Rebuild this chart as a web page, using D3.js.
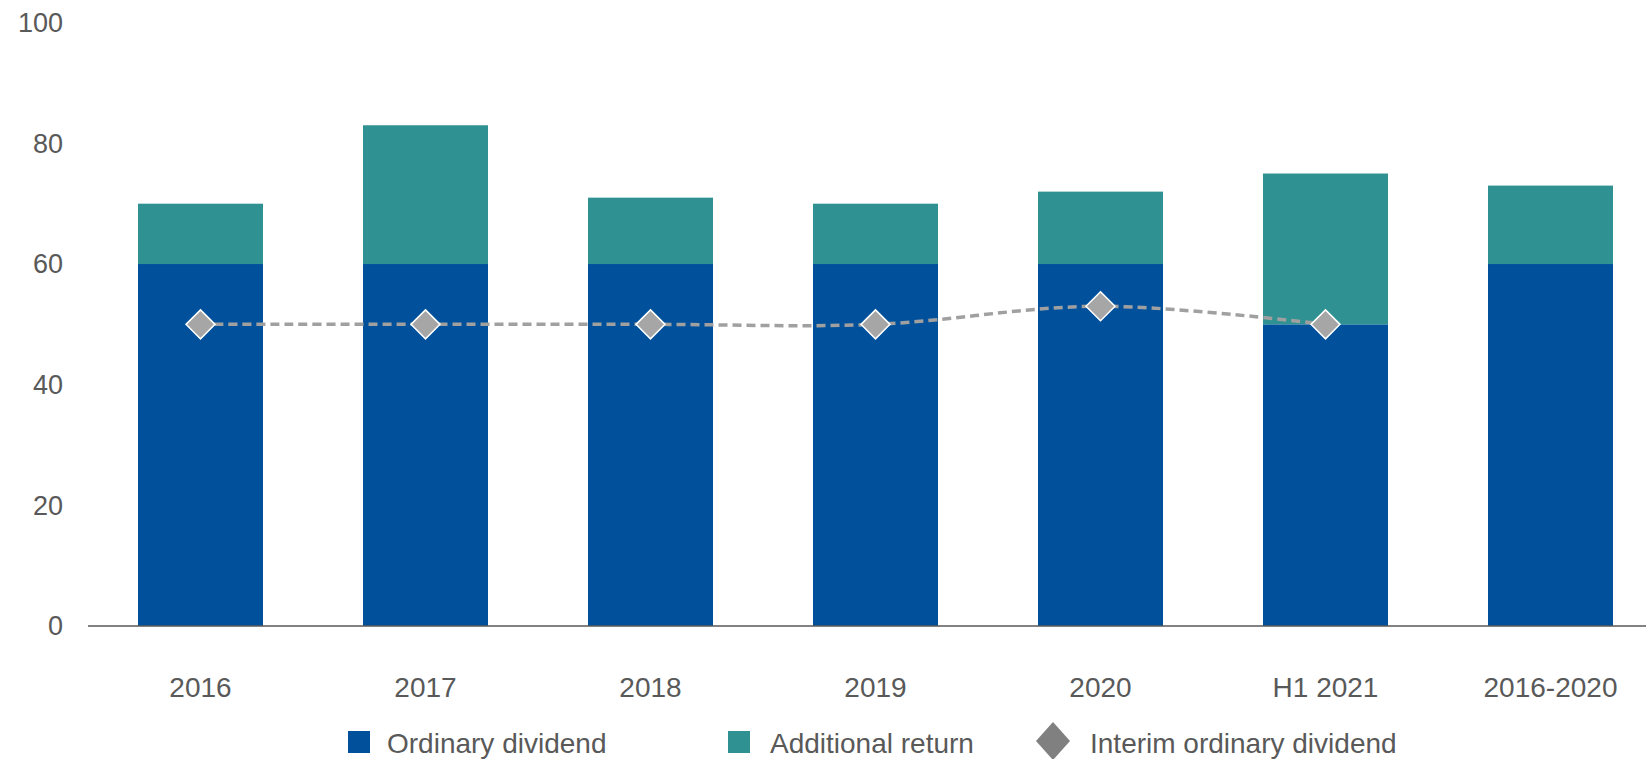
<!DOCTYPE html>
<html>
<head>
<meta charset="utf-8">
<script src="https://cdn.jsdelivr.net/npm/d3@7"></script>
<style>
  html, body { margin: 0; padding: 0; background: #fff; }
  svg { display: block; font-family: "Liberation Sans", Arial, sans-serif; }
</style>
</head>
<body>
<svg id="chart" width="1646" height="759"></svg>
<script>
const categories = ["2016", "2017", "2018", "2019", "2020", "H1 2021", "2016-2020"];
const ordinaryDividend = [60, 60, 60, 60, 60, 50, 60];
const additionalReturn = [10, 23, 11, 10, 12, 25, 13];
const interimDividend = [50, 50, 50, 50, 53, 50, null];
const yTicks = [0, 20, 40, 60, 80, 100];
const legendLabels = ["Ordinary dividend", "Additional return", "Interim ordinary dividend"];

const colors = { ordinary: "#00509b", additional: "#2f9191", line: "#a0a0a0", marker: "#a6a6a6", legendMarker: "#808080", text: "#595959", axis: "#595959" };

const svg = d3.select("#chart");
const x = d3.scaleBand().domain(categories).range([88, 1663]).paddingInner(100/225).paddingOuter(50/225);
const y = d3.scaleLinear().domain([0, 100]).range([626, 22.7]);

// Bars
const rows = categories.map((c, i) => ({ c, ord: ordinaryDividend[i], add: additionalReturn[i] }));
svg.append("g").selectAll("rect").data(rows).join("rect")
  .attr("x", d => x(d.c)).attr("width", x.bandwidth())
  .attr("y", d => y(d.ord)).attr("height", d => y(0) - y(d.ord))
  .attr("fill", colors.ordinary);
svg.append("g").selectAll("rect").data(rows).join("rect")
  .attr("x", d => x(d.c)).attr("width", x.bandwidth())
  .attr("y", d => y(d.ord + d.add)).attr("height", d => y(d.ord) - y(d.ord + d.add))
  .attr("fill", colors.additional);

// Axis line
svg.append("line").attr("x1", 88).attr("x2", 1663).attr("y1", y(0)).attr("y2", y(0))
  .attr("stroke", colors.axis).attr("stroke-width", 1.5);

// Y tick labels
svg.append("g").selectAll("text").data(yTicks).join("text")
  .attr("x", 63).attr("y", d => y(d)).attr("dy", "0.35em")
  .attr("text-anchor", "end").attr("font-size", 27).attr("fill", colors.text)
  .text(d => d);

// X labels
svg.append("g").selectAll("text").data(categories).join("text")
  .attr("x", d => x(d) + x.bandwidth() / 2).attr("y", 697)
  .attr("text-anchor", "middle").attr("font-size", 28).attr("fill", colors.text)
  .text(d => d);

// Line
const pts = categories.map((c, i) => ({ c, v: interimDividend[i] })).filter(d => d.v != null);
const line = d3.line().x(d => x(d.c) + x.bandwidth() / 2).y(d => y(d.v)).curve(d3.curveCardinal.tension(0));
svg.append("path").datum(pts).attr("d", line)
  .attr("fill", "none").attr("stroke", colors.line).attr("stroke-width", 3.5)
  .attr("stroke-dasharray", "9,5");

const diamond = (cx, cy, hw, hh) => `M${cx},${cy - hh}L${cx + hw},${cy}L${cx},${cy + hh}L${cx - hw},${cy}Z`;
svg.append("g").selectAll("path").data(pts).join("path")
  .attr("d", d => diamond(x(d.c) + x.bandwidth() / 2, y(d.v), 14.5, 14.5))
  .attr("fill", colors.marker).attr("stroke", "#ffffff").attr("stroke-width", 1.5);

// Legend
const lg = svg.append("g");
lg.append("rect").attr("x", 348).attr("y", 731).attr("width", 22).attr("height", 22).attr("fill", colors.ordinary);
lg.append("text").attr("x", 387).attr("y", 753).attr("font-size", 28).attr("fill", colors.text).text(legendLabels[0]);
lg.append("rect").attr("x", 728).attr("y", 731).attr("width", 22).attr("height", 22).attr("fill", colors.additional);
lg.append("text").attr("x", 770).attr("y", 753).attr("font-size", 28).attr("fill", colors.text).text(legendLabels[1]);
lg.append("path").attr("d", diamond(1053, 741, 17, 19)).attr("fill", colors.legendMarker);
lg.append("text").attr("x", 1090).attr("y", 753).attr("font-size", 28).attr("fill", colors.text).text(legendLabels[2]);
</script>
</body>
</html>
